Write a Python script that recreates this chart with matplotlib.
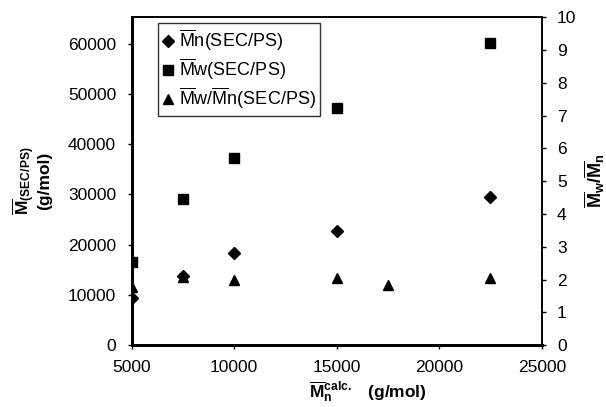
import matplotlib
matplotlib.use("Agg")
import matplotlib.pyplot as plt

plt.rcParams['font.family'] = ['Liberation Sans', 'DejaVu Sans']
plt.rcParams['mathtext.fontset'] = 'custom'
plt.rcParams['mathtext.rm'] = 'Liberation Sans'
plt.rcParams['mathtext.it'] = 'Liberation Sans'
plt.rcParams['mathtext.bf'] = 'Liberation Sans:bold'

# data
mn_calc = [5000, 7500, 10000, 15000, 22500]
mn_sec = [9400, 13700, 18400, 22800, 29500]
mw_sec = [16600, 29000, 37200, 47200, 60200]
pdi_x = [5000, 7500, 10000, 15000, 17500, 22500]
pdi = [1.78, 2.08, 2.0, 2.06, 1.84, 2.06]

xticks = [5000, 10000, 15000, 20000, 25000]
yticks_left = list(range(0, 60001, 10000))
yticks_right = list(range(0, 11))

fig = plt.figure(figsize=(6.06, 4.07), dpi=100, facecolor='white')
ax = fig.add_axes([0.217, 0.152, 0.677, 0.806])
ax2 = ax.twinx()

h1, = ax.plot(mn_calc, mn_sec, 'D', color='black', markersize=6, linestyle='none')
h2, = ax.plot(mn_calc, mw_sec, 's', color='black', markersize=7, linestyle='none')
h3, = ax2.plot(pdi_x, pdi, '^', color='black', markersize=7.5, linestyle='none')

ax.set_xlim(5000, 25000)
ax.set_ylim(0, 65300)
ax2.set_ylim(0, 10)
ax.set_xticks(xticks)
ax.set_yticks(yticks_left)
ax2.set_yticks(yticks_right)

for a in (ax, ax2):
    a.tick_params(direction='out', length=3, width=1, labelsize=12.5, pad=8, color='black')
    for s in a.spines.values():
        s.set_color('black')
    a.spines['left'].set_linewidth(2)
    a.spines['bottom'].set_linewidth(2)
    a.spines['top'].set_linewidth(1.2)
    a.spines['right'].set_linewidth(1.2)

ax.set_xlabel(r'$\mathbf{\overline{M}_n^{calc.}}$   (g/mol)', fontsize=12.5, fontweight='bold')
ax.xaxis.set_label_coords(0.575, -0.105)
ax.set_ylabel('$\\mathbf{\\overline{M}_{(SEC/PS)}}$\n(g/mol)', fontsize=12.5, fontweight='bold',
              linespacing=1.0)
ax.yaxis.set_label_coords(-0.194, 0.5)
ax2.set_ylabel(r'$\mathbf{\overline{M}_w/\overline{M}_n}$', fontsize=13)
ax2.yaxis.set_label_coords(1.10, 0.5)

leg = ax.legend([h1, h2, h3],
                [r'$\overline{\mathrm{M}}$n(SEC/PS)', r'$\overline{\mathrm{M}}$w(SEC/PS)',
                 r'$\overline{\mathrm{M}}$w/$\overline{\mathrm{M}}$n(SEC/PS)'],
                loc='upper left', bbox_to_anchor=(0.065, 0.982), fontsize=13,
                frameon=True, fancybox=False, handlelength=0.6, handletextpad=0.3,
                borderpad=0.25, labelspacing=0.2, borderaxespad=0)
leg.get_frame().set_edgecolor('black')
leg.get_frame().set_linewidth(1)

fig.savefig('out.png', dpi=100, facecolor='white')
